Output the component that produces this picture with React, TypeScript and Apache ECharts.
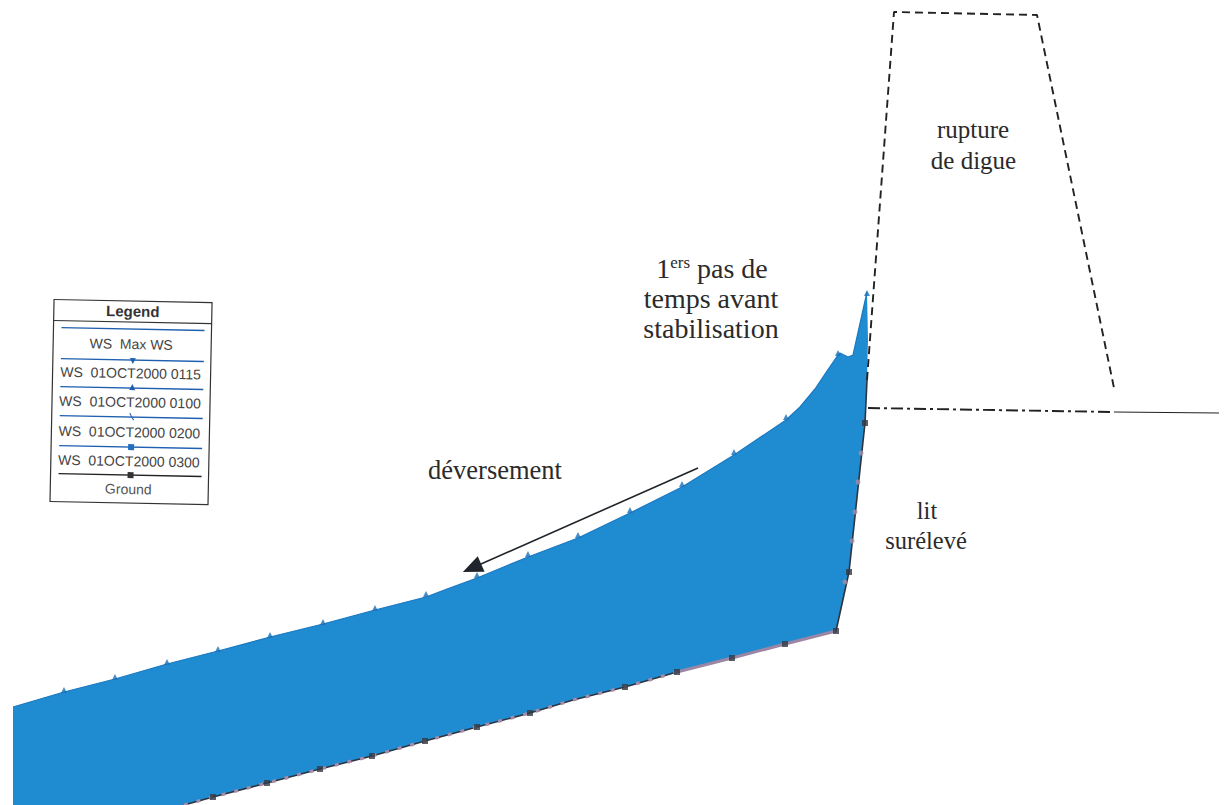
import React, { useEffect, useRef } from "react";
import * as echarts from "echarts";

const surface: [number, number][] = [[13,707],[64,692],[115,679],[167,664],[218,651],[270,637],[323,624],[375,610],[426,597],[447,589],[477,578],[528,557],[578,538],[630,513],[682,487],[734,455],[786,420],[800,407],[815,389],[827,371],[838,355],[840,353],[848,357],[853,355],[867,292]];
const surfaceStations: [number, number][] = [[64,690],[115,677],[167,662],[218,649],[270,635],[323,622],[375,608],[426,594],[477,575],[528,554],[578,535],[630,510],[682,484],[734,452],[786,417],[838,353],[867,293]];
const wallDown: [number, number][] = [[868,340],[867,380],[865,423],[849,572]];
const ground: [number, number][] = [[184,805],[213,797],[267,783],[320,769],[372,756],[425,741],[477,727],[530,713],[573,700],[625,687],[677,672],[732,658],[785,644],[836,631],[849,572],[865,423],[867,380]];
const groundMarkers: [number, number][] = [[213,797],[267,783],[320,769],[372,756],[425,741],[477,727],[530,713],[625,687],[677,672],[732,658],[785,644],[836,631],[849,572],[865,423]];
const groundTintDashed: [number, number][] = [[184,805],[213,797],[267,783],[320,769],[372,756],[425,741],[477,727],[530,713],[573,700],[625,687],[677,672]];
const groundTintSolid: [number, number][] = [[677,672],[732,658],[785,644],[836,631]];
const wallDots: [number, number][] = [[861,453],[858,482],[855,512],[852,541],[845,582]];
const dikeDashed: [number, number][] = [[867,380],[894,12],[1037,15],[1114,388]];
const crestDashDot: [number, number][] = [[868,408],[1114,412]];
const crestSolid: [number, number][] = [[1114,412],[1219,413]];
const arrowPath: [number, number][] = [[698,468],[472,568]];
const legendTitle = "Legend";
const legendLabels = ["WS  Max WS","WS  01OCT2000 0115","WS  01OCT2000 0100","WS  01OCT2000 0200","WS  01OCT2000 0300","Ground"];

const WATER = "#1f8bd0";
const SERIF = "'Liberation Serif', serif";
const LEGEND_FONT = "'Liberation Sans', sans-serif";
const waterPolygon: [number, number][] = [...surface, ...wallDown, ...ground.filter((p) => p[0] <= 836).slice().reverse(), [13,805]];

export default function App() {
  const ref = useRef<HTMLDivElement>(null);
  useEffect(() => {
    const chart = echarts.init(ref.current!, undefined, { renderer: "svg" });
    const lineYs = [329, 360, 388, 417, 447, 475];
    const textYs = [344, 373, 402, 432, 461, 489];
    const lineColors = ["#1f5fb0","#1f5fb0","#1f5fb0","#1f5fb0","#1f5fb0","#222222"];
    const cx = 132;
    const legendChildren: any[] = [
      { type: "rect", shape: { x: 52, y: 301, width: 158, height: 202 }, style: { fill: "#fff", stroke: "#333", lineWidth: 1.2 } },
      { type: "line", shape: { x1: 52, y1: 322, x2: 210, y2: 322 }, style: { stroke: "#333", lineWidth: 1.2 } },
      { type: "text", style: { x: 131, y: 311, text: legendTitle, align: "center", verticalAlign: "middle", font: `bold 15px ${LEGEND_FONT}`, fill: "#333" } },
    ];
    legendLabels.forEach((label, i) => {
      legendChildren.push({ type: "line", shape: { x1: 60, y1: lineYs[i], x2: 203, y2: lineYs[i] }, style: { stroke: lineColors[i], lineWidth: 1.4 } });
      legendChildren.push({ type: "text", style: { x: 130, y: textYs[i], text: label, align: "center", verticalAlign: "middle", font: `14px ${LEGEND_FONT}`, fill: i === 5 ? "#555" : "#444" } });
    });
    legendChildren.push(
      { type: "polygon", shape: { points: [[cx-3,358],[cx+3,358],[cx,364]] }, style: { fill: "#1f5fb0" } },
      { type: "polygon", shape: { points: [[cx-3,390],[cx+3,390],[cx,384]] }, style: { fill: "#1f5fb0" } },
      { type: "polyline", shape: { points: [[cx-2,413],[cx,417],[cx+2,420]] }, style: { stroke: "#1f5fb0", fill: "none", lineWidth: 1 } },
      { type: "rect", shape: { x: cx-3, y: 444, width: 6, height: 6 }, style: { fill: "#1f6fc0" } },
      { type: "rect", shape: { x: cx-3, y: 472, width: 6, height: 6 }, style: { fill: "#333" } },
    );
    const txt = (x: number, y: number, text: string, size: number) => ({
      type: "text",
      style: { x, y, text, align: "center", verticalAlign: "middle", font: `${size}px ${SERIF}`, fill: "#2b2b2b" },
    });
    chart.setOption({
      animation: false,
      backgroundColor: "#ffffff",
      grid: { left: 0, right: 0, top: 0, bottom: 0 },
      xAxis: { type: "value", min: 0, max: 1224, show: false },
      yAxis: { type: "value", min: 0, max: 805, inverse: true, show: false },
      graphic: [
        { type: "group", rotation: -0.02, originX: 131, originY: 402, children: legendChildren },
        txt(973, 129, "rupture", 25),
        txt(973.5, 160, "de digue", 25),
        {
          type: "text",
          style: {
            x: 712, y: 268, align: "center", verticalAlign: "middle",
            text: "{a|1}{b|ers}{a| pas de}",
            rich: {
              a: { font: `28px ${SERIF}`, fill: "#2b2b2b", verticalAlign: "bottom" },
              b: { font: `17px ${SERIF}`, fill: "#2b2b2b", verticalAlign: "top", padding: [0, 0, 10, 0] },
            },
          },
        },
        txt(711, 298, "temps avant", 28),
        txt(711, 328, "stabilisation", 28),
        txt(495, 470, "déversement", 26.5),
        txt(927, 510, "lit", 24.5),
        txt(926, 540, "surélevé", 24.5),
      ],
      series: [
        {
          type: "custom",
          coordinateSystem: "cartesian2d",
          data: [0],
          silent: true,
          z: 1,
          renderItem: (_p: any, api: any) => ({
            type: "polygon",
            shape: { points: waterPolygon.map((p) => api.coord(p)) },
            style: { fill: WATER },
          }),
        },
        {
          name: "Water surface", type: "line", data: surface, z: 3, silent: true, symbol: "none",
          lineStyle: { color: "#1b78c0", width: 1.2 },
        },
        {
          name: "Surface stations", type: "scatter", data: surfaceStations, z: 3, silent: true,
          symbol: "triangle", symbolSize: 6, itemStyle: { color: "#1b70b8" },
        },
        {
          name: "Ground", type: "line", data: ground, z: 3, silent: true, symbol: "none",
          lineStyle: { color: "#2c3440", width: 1.6 },
        },
        {
          name: "Ground tint dashed", type: "line", data: groundTintDashed, z: 4, silent: true, symbol: "none",
          lineStyle: { color: "#a58ca8", width: 3.2, type: [4, 9] },
        },
        {
          name: "Ground tint", type: "line", data: groundTintSolid, z: 4, silent: true, symbol: "none",
          lineStyle: { color: "#9c86a6", width: 3 },
        },
        {
          name: "Wall dots", type: "scatter", data: wallDots, z: 5, silent: true,
          symbol: "circle", symbolSize: 5, itemStyle: { color: "#a58ca8" },
        },
        {
          name: "Ground stations", type: "scatter", data: groundMarkers, z: 6, silent: true,
          symbol: "rect", symbolSize: 6, itemStyle: { color: "#333a44" },
        },
        {
          name: "Dike", type: "line", data: dikeDashed, z: 2, silent: true, symbol: "none",
          lineStyle: { color: "#222", width: 1.9, type: [8, 5] },
        },
        {
          name: "Crest", type: "line", data: crestDashDot, z: 2, silent: true, symbol: "none",
          lineStyle: { color: "#222", width: 1.9, type: [12, 4, 3, 4] },
        },
        {
          name: "Crest solid", type: "line", data: crestSolid, z: 2, silent: true, symbol: "none",
          lineStyle: { color: "#222", width: 1.2 },
        },
        {
          name: "Arrow", type: "line", data: [], z: 5, silent: true, symbol: "none",
          markLine: {
            silent: true, animation: false, symbol: ["none", "triangle"], symbolSize: [17, 20],
            label: { show: false },
            lineStyle: { color: "#1f252b", width: 1.6, type: "solid" },
            data: [[{ coord: arrowPath[0] }, { coord: arrowPath[1] }]],
          },
        },
      ],
    });
    return () => chart.dispose();
  }, []);
  return <div ref={ref} style={{ position: "absolute", left: 0, top: 0, width: 1224, height: 805 }} />;
}
